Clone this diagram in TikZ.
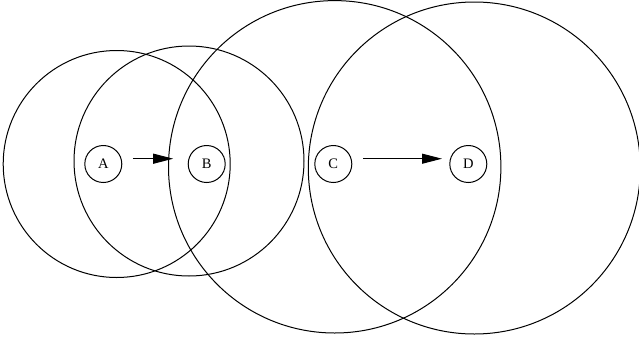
\documentclass[tikz,border=0pt]{standalone}
\usepackage{fontspec}
\setmainfont{Liberation Serif}
\usetikzlibrary{arrows.meta}
\begin{document}
\begin{tikzpicture}[x=1pt,y=-1pt,
  coverage/.style={draw,line width=1pt},
  station/.style={draw,circle,line width=1pt,minimum size=37pt,inner sep=0pt,font=\fontsize{14.5}{15}\selectfont},
  link/.style={line width=1pt,-{Triangle[length=20pt,width=10pt]}}]
\useasboundingbox (0,0) rectangle (639,343);
\draw[coverage] (116.7,164) circle[radius=113.5pt];
\draw[coverage] (189,161) circle[radius=115pt];
\draw[coverage] (334.7,166.8) circle[radius=166.2pt];
\draw[coverage] (474.3,168) circle[radius=166pt];
\node[station] (A) at (103.3,164) {A};
\node[station] (B) at (206.7,164) {B};
\node[station] (C) at (333.3,164) {C};
\node[station] (D) at (468.3,164) {D};
\draw[link] ([xshift=10.5pt,yshift=5.3pt]A.east) -- ([xshift=-14.5pt,yshift=5.3pt]B.west);
\draw[link] ([xshift=10.7pt,yshift=5.3pt]C.east) -- ([xshift=-7.3pt,yshift=5.3pt]D.west);
\end{tikzpicture}
\end{document}
